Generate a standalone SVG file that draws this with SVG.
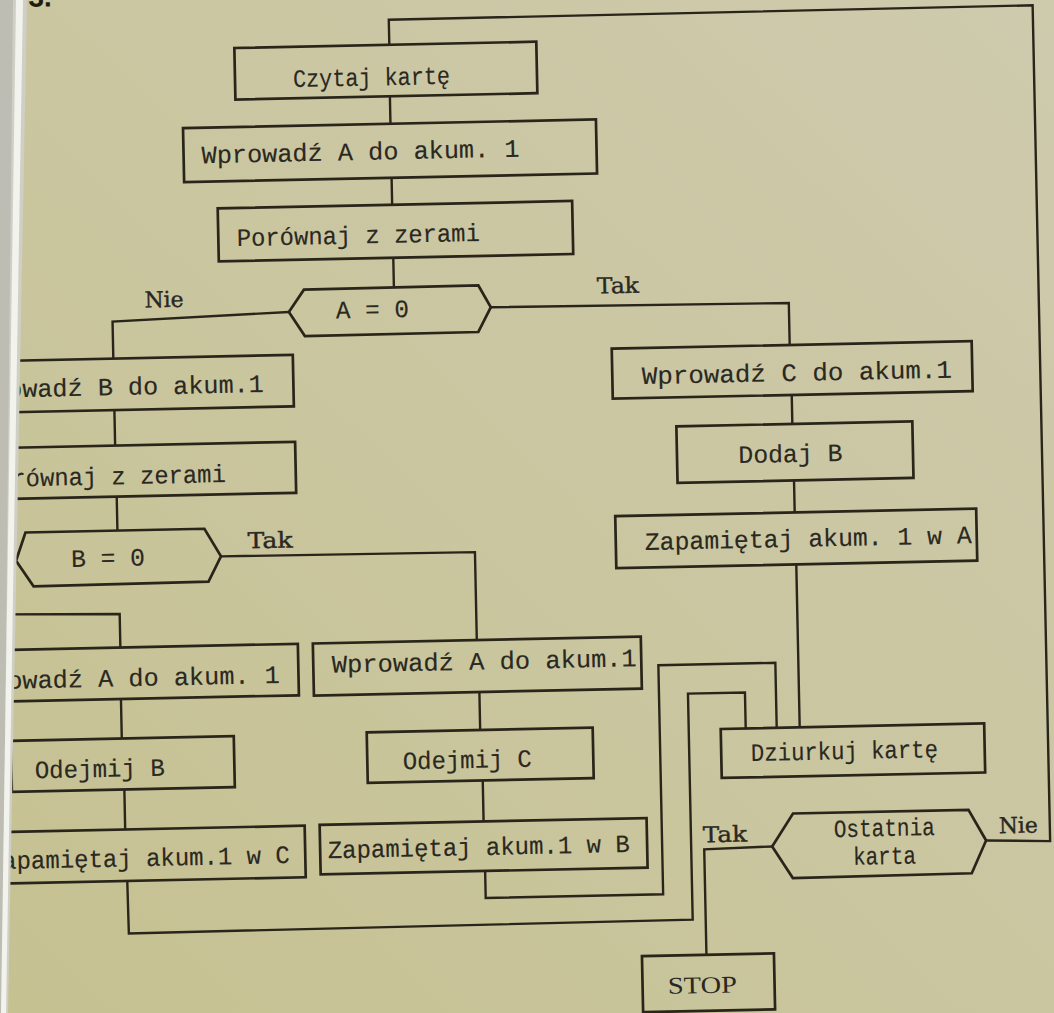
<svg xmlns="http://www.w3.org/2000/svg" width="1054" height="1013" viewBox="0 0 1054 1013">
<defs>
<linearGradient id="paper" x1="1" y1="0" x2="0" y2="1">
<stop offset="0" stop-color="#cecaad"/>
<stop offset="0.5" stop-color="#cac6a0"/>
<stop offset="1" stop-color="#c6c191"/>
</linearGradient>
<style>
.box{fill:none;stroke:#29251a;stroke-width:2.7;stroke-linejoin:miter}
.ln{fill:none;stroke:#29251a;stroke-width:2.4;stroke-linejoin:miter}
.t{font-family:"Liberation Mono","Courier New",monospace;font-size:25px;fill:#2a281f;stroke:#2a281f;stroke-width:0.15}
.lbl{font-family:"DejaVu Serif","Liberation Serif",serif;font-size:22px;fill:#2a281f;stroke:#2a281f;stroke-width:0.4}
.stop{font-family:"Liberation Serif","Times New Roman",serif;font-size:24px;fill:#2a281f}
</style>
</defs>
<rect x="0" y="0" width="1054" height="1013" fill="url(#paper)"/>
<g transform="rotate(-1.2 527 506)">
<text x="39" y="-3.5" font-family="Liberation Sans, Arial, sans-serif" font-size="28" font-weight="bold" fill="#1e1b14">3.</text>
<g id="connectors">
<path class="ln" d="M979,850 L1043,852 L1043,16 L399,17 L399,42"/>
<path class="ln" d="M398.5,93.5 L398.5,121"/>
<path class="ln" d="M398.5,175 L398.5,202"/>
<path class="ln" d="M398.5,255 L398.5,285"/>
<path class="ln" d="M293,307 L116.5,313 L116.5,350"/>
<path class="ln" d="M116.5,401.5 L116.5,437"/>
<path class="ln" d="M117,488 L117,522"/>
<path class="ln" d="M220,550 L474,551 L474,639"/>
<path class="ln" d="M-20,603 L117.5,605.5 L117.5,639"/>
<path class="ln" d="M117,690.5 L117,730"/>
<path class="ln" d="M118.5,781 L118.5,821"/>
<path class="ln" d="M119.5,872.5 L120,925 L684,923 L684,697 L741,697 L741,733"/>
<path class="ln" d="M475.5,691 L475.5,729"/>
<path class="ln" d="M477,779.5 L477,820.5"/>
<path class="ln" d="M477.5,870 L477.5,897 L655,897 L655,668 L772,668 L772,733"/>
<path class="ln" d="M495,306.5 L793,308.5 L793,350.5"/>
<path class="ln" d="M794,400.5 L794,429.5"/>
<path class="ln" d="M794.5,486 L794.5,518"/>
<path class="ln" d="M795,570 L795,733"/>
<path class="ln" d="M765,851.5 L697,853 L697,958.5"/>
<text class="lbl" x="149" y="299.5" textLength="39" lengthAdjust="spacingAndGlyphs">Nie</text>
<text class="lbl" x="601.5" y="295" textLength="42" lengthAdjust="spacingAndGlyphs">Tak</text>
<text class="lbl" x="247" y="542.5" textLength="45" lengthAdjust="spacingAndGlyphs">Tak</text>
<text class="lbl" x="696" y="846" textLength="44" lengthAdjust="spacingAndGlyphs">Tak</text>
<text class="lbl" x="992" y="843" textLength="39" lengthAdjust="spacingAndGlyphs">Nie</text>
</g>
<g id="czytaj"><rect class="box" x="244" y="42" width="302" height="51.5"/><text class="t" x="302" y="82.3" textLength="157" lengthAdjust="spacingAndGlyphs">Czytaj kartę</text></g>
<g id="wprowadz-a-1"><rect class="box" x="191" y="121" width="413" height="54"/><text class="t" x="209" y="156.5" textLength="318" lengthAdjust="spacingAndGlyphs">Wprowadź A do akum. 1</text></g>
<g id="porownaj-1"><rect class="box" x="224" y="202" width="354.5" height="53"/><text class="t" x="242.5" y="240" textLength="243" lengthAdjust="spacingAndGlyphs">Porównaj z zerami</text></g>
<g id="dec-a"><polygon class="box" points="293,307 308.5,285 483,284.5 495,306.5 482,331 308.5,331.5"/><text class="t" x="340" y="314.5" textLength="73" lengthAdjust="spacingAndGlyphs">A = 0</text></g>
<g id="wprowadz-b"><rect class="box" x="-60" y="350" width="356" height="51.5"/><text class="t" x="-35.6" y="386.5" textLength="302" lengthAdjust="spacingAndGlyphs">Wprowadź B do akum.1</text></g>
<g id="porownaj-2"><rect class="box" x="-60" y="437" width="356.5" height="51"/><text class="t" x="-16.5" y="475.7" textLength="243" lengthAdjust="spacingAndGlyphs">Porównaj z zerami</text></g>
<g id="dec-b"><polygon class="box" points="15,550 25,522 204,522 220,550 207,575 32,576"/><text class="t" x="70" y="557.4" textLength="74" lengthAdjust="spacingAndGlyphs">B = 0</text></g>
<g id="wprowadz-a-2"><rect class="box" x="-60" y="639" width="355" height="51.5"/><text class="t" x="-41.7" y="677.8" textLength="318" lengthAdjust="spacingAndGlyphs">Wprowadź A do akum. 1</text></g>
<g id="odejmij-b"><rect class="box" x="6" y="730" width="223" height="51"/><text class="t" x="29.3" y="768" textLength="130" lengthAdjust="spacingAndGlyphs">Odejmij B</text></g>
<g id="zapamietaj-c"><rect class="box" x="-60" y="821" width="358" height="51.5"/><text class="t" x="-19.5" y="858" textLength="302" lengthAdjust="spacingAndGlyphs">Zapamiętaj akum.1 w C</text></g>
<g id="wprowadz-a-3"><rect class="box" x="310" y="639" width="328" height="52"/><text class="t" x="328.5" y="668.5" textLength="305" lengthAdjust="spacingAndGlyphs">Wprowadź A do akum.1</text></g>
<g id="odejmij-c"><rect class="box" x="362" y="729" width="226" height="50.5"/><text class="t" x="397.5" y="766.7" textLength="129" lengthAdjust="spacingAndGlyphs">Odejmij C</text></g>
<g id="zapamietaj-b"><rect class="box" x="313" y="820.5" width="327" height="49.5"/><text class="t" x="320.6" y="854" textLength="302" lengthAdjust="spacingAndGlyphs">Zapamiętaj akum.1 w B</text></g>
<g id="wprowadz-c"><rect class="box" x="615" y="350.5" width="360" height="50"/><text class="t" x="644.6" y="386.5" textLength="310" lengthAdjust="spacingAndGlyphs">Wprowadź C do akum.1</text></g>
<g id="dodaj-b"><rect class="box" x="678" y="429.5" width="236" height="56.5"/><text class="t" x="739.4" y="467.5" textLength="104" lengthAdjust="spacingAndGlyphs">Dodaj B</text></g>
<g id="zapamietaj-a"><rect class="box" x="615" y="518" width="361" height="52"/><text class="t" x="644" y="552.5" textLength="327" lengthAdjust="spacingAndGlyphs">Zapamiętaj akum. 1 w A</text></g>
<g id="dziurkuj"><rect class="box" x="716" y="733" width="263.5" height="49"/><text class="t" x="745.7" y="765.7" textLength="187" lengthAdjust="spacingAndGlyphs">Dziurkuj kartę</text></g>
<g id="dec-ostatnia"><polygon class="box" points="765,851.5 786.5,819 962,819 979,850 964,882.5 785,883.5"/><text class="t" x="827" y="843.5" textLength="101" lengthAdjust="spacingAndGlyphs">Ostatnia</text><text class="t" x="845.6" y="871.5" textLength="63" lengthAdjust="spacingAndGlyphs">karta</text></g>
<g id="stop"><rect class="box" x="632.5" y="958.5" width="132" height="56"/><text class="stop" x="657.8" y="996.7" textLength="69" lengthAdjust="spacingAndGlyphs">STOP</text></g>
</g>
<polygon points="0,0 27,0 8,1013 0,1013" fill="#cfcfc6"/>
<polygon points="0,0 13,0 2,1013 0,1013" fill="#bdbdb3"/>
<polygon points="16,0 23,0 6,1013 1,1013" fill="#f3f3ee"/>
</svg>
